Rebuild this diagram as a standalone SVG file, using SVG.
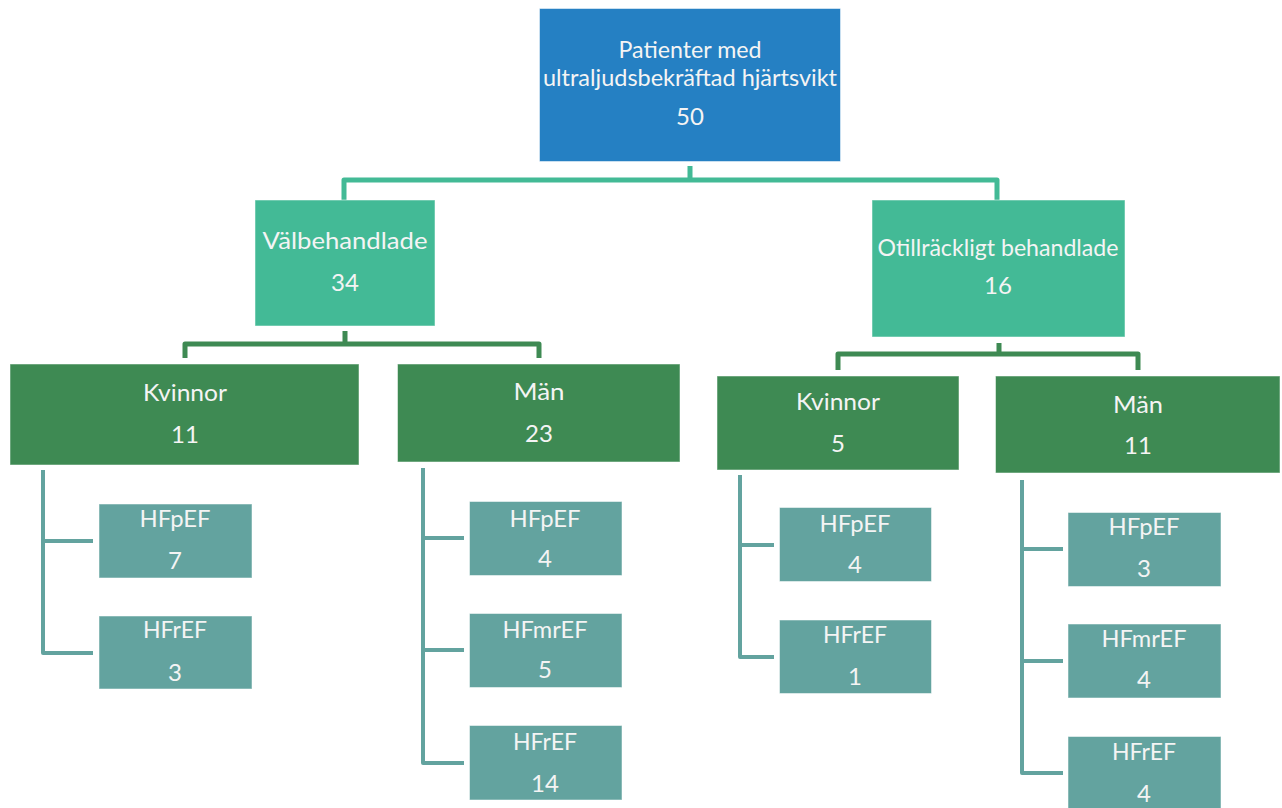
<svg xmlns="http://www.w3.org/2000/svg" width="1282" height="808" viewBox="0 0 1282 808">
<style>
.t{font-family:Lato,"Open Sans","Liberation Sans",sans-serif;font-size:24px;fill:#F4F4F4;text-anchor:middle}
.b{stroke:#FFFFFF;stroke-opacity:0.5;stroke-width:1}
.c1{fill:#2580C3}.c2{fill:#43BA96}.c3{fill:#3E8A53}.c4{fill:#63A39F}
.l{fill:none;stroke-linejoin:round;stroke-linecap:butt}
</style>
<rect width="1282" height="808" fill="#FFFFFF"/>
<g id="connectors">
<path class="l" stroke="#43BA96" stroke-width="5" d="M690,166 V180 M344,200 V180 H997 V200"/>
<path class="l" stroke="#3E8A53" stroke-width="5" d="M345,331 V344 M185,358 V344 H539 V358"/>
<path class="l" stroke="#3E8A53" stroke-width="5" d="M999,343 V354 M838,370 V354 H1138 V370"/>
<path class="l" stroke="#63A39F" stroke-width="4" d="M43,470 V653 H93 M43,541 H93"/>
<path class="l" stroke="#63A39F" stroke-width="4" d="M423,468 V763 H464 M423,538 H464 M423,650 H464"/>
<path class="l" stroke="#63A39F" stroke-width="4" d="M740,475 V657 H774 M740,545 H774"/>
<path class="l" stroke="#63A39F" stroke-width="4" d="M1022,480 V773 H1063 M1022,549 H1063 M1022,661 H1063"/>
</g>
<g id="root">
<rect class="c1 b" x="539.5" y="8.5" width="301" height="153"/>
<text class="t" x="690" y="58" textLength="143" lengthAdjust="spacingAndGlyphs">Patienter med</text>
<text class="t" x="690" y="86" textLength="294" lengthAdjust="spacingAndGlyphs">ultraljudsbekräftad hjärtsvikt</text>
<text class="t" x="690" y="125">50</text>
</g>
<g id="valbehandlade">
<rect class="c2 b" x="255" y="200" width="180" height="126"/>
<text class="t" x="345" y="249" textLength="165" lengthAdjust="spacingAndGlyphs">Välbehandlade</text>
<text class="t" x="345" y="291">34</text>
</g>
<g id="otillrackligt">
<rect class="c2 b" x="872" y="200" width="253" height="137"/>
<text class="t" x="998" y="256" textLength="241" lengthAdjust="spacingAndGlyphs">Otillräckligt behandlade</text>
<text class="t" x="998" y="294">16</text>
</g>
<g id="kvinnor-val">
<rect class="c3 b" x="10" y="364" width="349" height="101"/>
<text class="t" x="185" y="401" textLength="84" lengthAdjust="spacingAndGlyphs">Kvinnor</text>
<text class="t" x="185" y="443">11</text>
</g>
<g id="man-val">
<rect class="c3 b" x="397.5" y="364" width="282.5" height="98"/>
<text class="t" x="539" y="400" textLength="51" lengthAdjust="spacingAndGlyphs">Män</text>
<text class="t" x="539" y="442">23</text>
</g>
<g id="kvinnor-otill">
<rect class="c3 b" x="717" y="376" width="242" height="94"/>
<text class="t" x="838" y="410" textLength="84" lengthAdjust="spacingAndGlyphs">Kvinnor</text>
<text class="t" x="838" y="452">5</text>
</g>
<g id="man-otill">
<rect class="c3 b" x="995.5" y="376" width="284.5" height="97"/>
<text class="t" x="1138" y="413" textLength="50" lengthAdjust="spacingAndGlyphs">Män</text>
<text class="t" x="1138" y="454">11</text>
</g>
<g id="kv-val-hfpef">
<rect class="c4 b" x="99" y="504" width="153" height="74"/>
<text class="t" x="175" y="527" textLength="71" lengthAdjust="spacingAndGlyphs">HFpEF</text>
<text class="t" x="175" y="569">7</text>
</g>
<g id="kv-val-hfref">
<rect class="c4 b" x="99" y="616" width="153" height="73"/>
<text class="t" x="175" y="638" textLength="64" lengthAdjust="spacingAndGlyphs">HFrEF</text>
<text class="t" x="175" y="681">3</text>
</g>
<g id="man-val-hfpef">
<rect class="c4 b" x="469.5" y="501.5" width="152.5" height="74"/>
<text class="t" x="545" y="527" textLength="71" lengthAdjust="spacingAndGlyphs">HFpEF</text>
<text class="t" x="545" y="567">4</text>
</g>
<g id="man-val-hfmref">
<rect class="c4 b" x="469.5" y="613.5" width="152.5" height="74"/>
<text class="t" x="545" y="638" textLength="85" lengthAdjust="spacingAndGlyphs">HFmrEF</text>
<text class="t" x="545" y="678">5</text>
</g>
<g id="man-val-hfref">
<rect class="c4 b" x="469.5" y="725.5" width="152.5" height="74.5"/>
<text class="t" x="545" y="750" textLength="64" lengthAdjust="spacingAndGlyphs">HFrEF</text>
<text class="t" x="545" y="792">14</text>
</g>
<g id="kv-otill-hfpef">
<rect class="c4 b" x="779.5" y="507.5" width="152" height="74"/>
<text class="t" x="855" y="532" textLength="71" lengthAdjust="spacingAndGlyphs">HFpEF</text>
<text class="t" x="855" y="573">4</text>
</g>
<g id="kv-otill-hfref">
<rect class="c4 b" x="779.5" y="620" width="152" height="73.5"/>
<text class="t" x="855" y="643" textLength="64" lengthAdjust="spacingAndGlyphs">HFrEF</text>
<text class="t" x="855" y="685">1</text>
</g>
<g id="man-otill-hfpef">
<rect class="c4 b" x="1068" y="512.5" width="153" height="74"/>
<text class="t" x="1144" y="535" textLength="71" lengthAdjust="spacingAndGlyphs">HFpEF</text>
<text class="t" x="1144" y="577">3</text>
</g>
<g id="man-otill-hfmref">
<rect class="c4 b" x="1068" y="624" width="153" height="74"/>
<text class="t" x="1144" y="647" textLength="85" lengthAdjust="spacingAndGlyphs">HFmrEF</text>
<text class="t" x="1144" y="688">4</text>
</g>
<g id="man-otill-hfref">
<rect class="c4 b" x="1068" y="736.5" width="153" height="74"/>
<text class="t" x="1144" y="760" textLength="64" lengthAdjust="spacingAndGlyphs">HFrEF</text>
<text class="t" x="1144" y="802">4</text>
</g>
</svg>
